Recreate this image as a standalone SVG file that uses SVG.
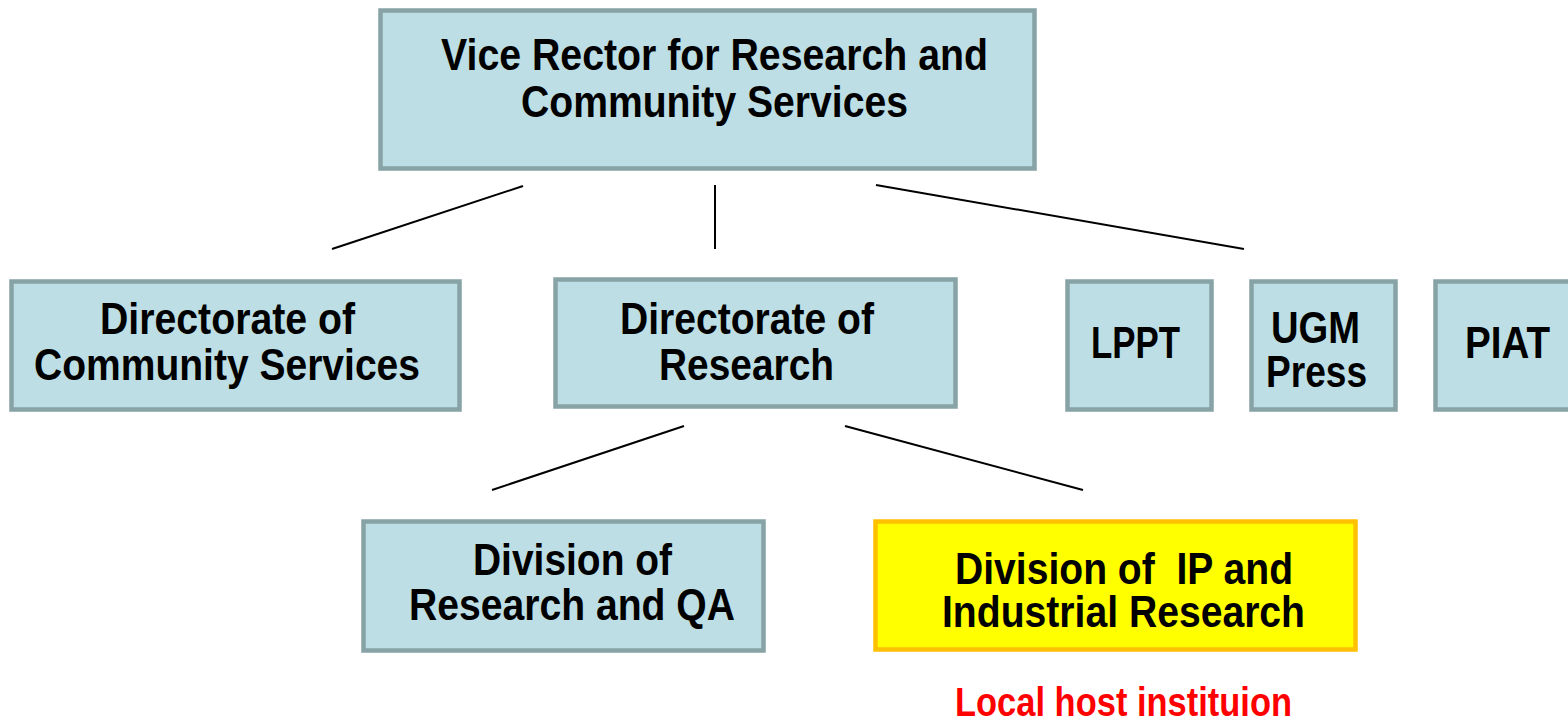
<svg xmlns="http://www.w3.org/2000/svg" width="1568" height="726" viewBox="0 0 1568 726">
<style>
.box{fill:#bcdee4;stroke:#87a3a6;stroke-width:4.5}
.hl{fill:#ffff00;stroke:#ffc000;stroke-width:4.5}
.t{font-family:"Liberation Sans",Arial,sans-serif;font-weight:bold;font-size:44px;fill:#000}
.red{fill:#ff0000;font-size:40px}
.conn line{stroke:#000;stroke-width:2}
</style>
<rect width="1568" height="726" fill="#fff"/>
<g class="conn">
<line x1="332" y1="249" x2="523" y2="186"/>
<line x1="715" y1="185" x2="715" y2="249"/>
<line x1="876" y1="185" x2="1244" y2="249"/>
<line x1="492" y1="490" x2="684" y2="426"/>
<line x1="845" y1="426" x2="1083" y2="490"/>
</g>
<g id="vice-rector">
<rect class="box" x="380.5" y="10.5" width="654" height="158"/>
<text class="t" x="441" y="70" textLength="547" lengthAdjust="spacingAndGlyphs">Vice Rector for Research and</text>
<text class="t" x="521" y="117" textLength="387" lengthAdjust="spacingAndGlyphs">Community Services</text>
</g>
<g id="dir-community">
<rect class="box" x="11.5" y="281.5" width="448" height="128"/>
<text class="t" x="100" y="334" textLength="255" lengthAdjust="spacingAndGlyphs">Directorate of</text>
<text class="t" x="34" y="380" textLength="386" lengthAdjust="spacingAndGlyphs">Community Services</text>
</g>
<g id="dir-research">
<rect class="box" x="555.5" y="279.5" width="400" height="127"/>
<text class="t" x="620" y="334" textLength="254" lengthAdjust="spacingAndGlyphs">Directorate of</text>
<text class="t" x="659" y="380" textLength="175" lengthAdjust="spacingAndGlyphs">Research</text>
</g>
<g id="lppt">
<rect class="box" x="1067.5" y="281.5" width="144" height="128"/>
<text class="t" x="1091" y="358" textLength="89" lengthAdjust="spacingAndGlyphs">LPPT</text>
</g>
<g id="ugm-press">
<rect class="box" x="1251.5" y="281.5" width="144" height="128"/>
<text class="t" x="1271" y="343" textLength="89" lengthAdjust="spacingAndGlyphs">UGM</text>
<text class="t" x="1266" y="387" textLength="101" lengthAdjust="spacingAndGlyphs">Press</text>
</g>
<g id="piat">
<rect class="box" x="1435.5" y="281.5" width="144" height="128"/>
<text class="t" x="1465" y="358" textLength="85" lengthAdjust="spacingAndGlyphs">PIAT</text>
</g>
<g id="div-research-qa">
<rect class="box" x="363.5" y="521.5" width="400" height="129"/>
<text class="t" x="473" y="575" textLength="199" lengthAdjust="spacingAndGlyphs">Division of</text>
<text class="t" x="409" y="620" textLength="326" lengthAdjust="spacingAndGlyphs">Research and QA</text>
</g>
<g id="div-ip">
<rect class="hl" x="875.5" y="521.5" width="480" height="128"/>
<text class="t" x="955" y="584" textLength="338" lengthAdjust="spacingAndGlyphs" xml:space="preserve">Division of  IP and</text>
<text class="t" x="942" y="627" textLength="363" lengthAdjust="spacingAndGlyphs">Industrial Research</text>
</g>
<g id="local-host-label">
<text class="t red" x="955" y="716" textLength="337" lengthAdjust="spacingAndGlyphs">Local host instituion</text>
</g>
</svg>
